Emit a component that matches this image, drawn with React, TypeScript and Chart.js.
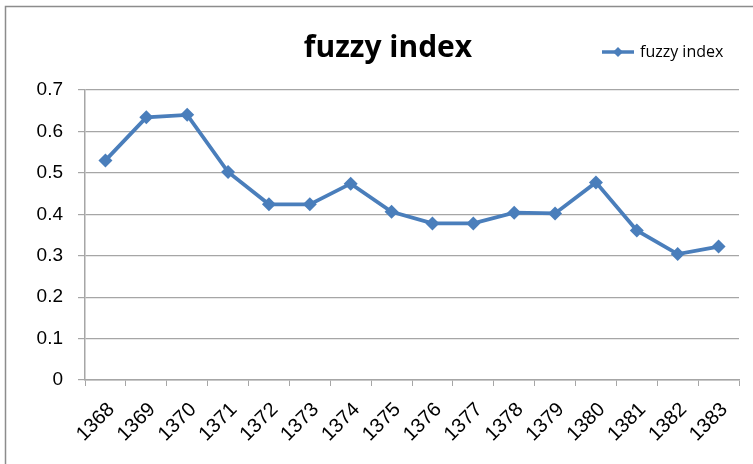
import React, { useEffect, useRef } from "react";
import { Chart, registerables } from "chart.js";

Chart.register(...registerables);

const years = ["1368", "1369", "1370", "1371", "1372", "1373", "1374", "1375", "1376", "1377", "1378", "1379", "1380", "1381", "1382", "1383"];
const fuzzyIndex = [0.530, 0.634, 0.640, 0.502, 0.424, 0.424, 0.474, 0.406, 0.378, 0.378, 0.404, 0.402, 0.477, 0.361, 0.304, 0.322];
const chartTitle = "fuzzy index";
const seriesName = "fuzzy index";
const yMin = 0;
const yMax = 0.7;
const yStep = 0.1;

const LINE_COLOR = "#4a7ebb";
const GRID_COLOR = "#a6a6a6";

const framePlugin = {
  id: "frameTitleLegend",
  beforeDraw(chart: any) {
    const ctx = chart.ctx;
    ctx.save();
    ctx.fillStyle = "#ffffff";
    ctx.fillRect(0, 0, chart.width, chart.height);
    ctx.strokeStyle = "#8c8c8c";
    ctx.lineWidth = 1.5;
    ctx.beginPath();
    ctx.moveTo(5.5, chart.height);
    ctx.lineTo(5.5, 6.5);
    ctx.lineTo(chart.width, 6.5);
    ctx.stroke();
    ctx.restore();
  },
  afterDraw(chart: any) {
    const ctx = chart.ctx;
    ctx.save();
    // title
    ctx.fillStyle = "#000000";
    ctx.font = "bold 30px 'Open Sans'";
    ctx.textAlign = "center";
    ctx.textBaseline = "alphabetic";
    ctx.fillText(chartTitle, 388, 57);
    // legend
    const ly = 52;
    ctx.strokeStyle = LINE_COLOR;
    ctx.lineWidth = 3.5;
    ctx.beginPath();
    ctx.moveTo(602, ly);
    ctx.lineTo(634, ly);
    ctx.stroke();
    ctx.fillStyle = LINE_COLOR;
    ctx.beginPath();
    const r = 5;
    ctx.moveTo(618, ly - r);
    ctx.lineTo(618 + r, ly);
    ctx.lineTo(618, ly + r);
    ctx.lineTo(618 - r, ly);
    ctx.closePath();
    ctx.fill();
    ctx.fillStyle = "#000000";
    ctx.font = "16px 'Open Sans'";
    ctx.textAlign = "left";
    ctx.textBaseline = "middle";
    ctx.fillText(seriesName, 640, ly);
    ctx.restore();
  },
};

export default function App() {
  const canvasRef = useRef<HTMLCanvasElement | null>(null);

  useEffect(() => {
    if (!canvasRef.current) return;
    const chart = new Chart(canvasRef.current, {
      type: "line",
      data: {
        labels: years,
        datasets: [
          {
            label: seriesName,
            data: fuzzyIndex,
            borderColor: LINE_COLOR,
            backgroundColor: LINE_COLOR,
            borderWidth: 3.8,
            pointStyle: "rectRot",
            pointRadius: 7,
            pointBackgroundColor: LINE_COLOR,
            pointBorderColor: LINE_COLOR,
            pointBorderWidth: 0,
            tension: 0,
            fill: false,
          },
        ],
      },
      options: {
        responsive: false,
        animation: false,
        devicePixelRatio: 1,
        layout: { padding: { left: 0, right: 14, top: 90, bottom: 0 } },
        plugins: {
          legend: { display: false },
          title: { display: false },
          tooltip: { enabled: false },
        },
        scales: {
          x: {
            type: "category",
            offset: true,
            grid: {
              offset: true,
              drawOnChartArea: false,
              drawTicks: true,
              tickLength: 6,
              color: GRID_COLOR,
            },
            border: { display: true, color: GRID_COLOR, width: 1.5 },
            ticks: {
              autoSkip: false,
              maxRotation: 45,
              minRotation: 45,
              labelOffset: 6,
              padding: 12,
              color: "#000000",
              font: { family: "'Liberation Sans', Arial, sans-serif", size: 20 },
            },
            afterFit(scale: any) {
              scale.height = 84;
            },
          },
          y: {
            min: yMin,
            max: yMax,
            grid: {
              color: GRID_COLOR,
              lineWidth: 1.2,
              drawTicks: true,
              tickLength: 7,
            },
            border: { display: true, color: GRID_COLOR, width: 1.5 },
            ticks: {
              stepSize: yStep,
              padding: 15,
              color: "#000000",
              font: { family: "'Liberation Sans', Arial, sans-serif", size: 19 },
              callback: (v: any) => (Number(v) === 0 ? "0" : Number(v).toFixed(1)),
            },
            afterFit(scale: any) {
              scale.width = 85;
            },
          },
        },
      },
      plugins: [framePlugin],
    });
    return () => chart.destroy();
  }, []);

  return (
    <div style={{ position: "fixed", left: 0, top: 0, width: 753, height: 464, background: "#fff" }}>
      <canvas ref={canvasRef} width={753} height={464} style={{ display: "block" }} />
    </div>
  );
}
